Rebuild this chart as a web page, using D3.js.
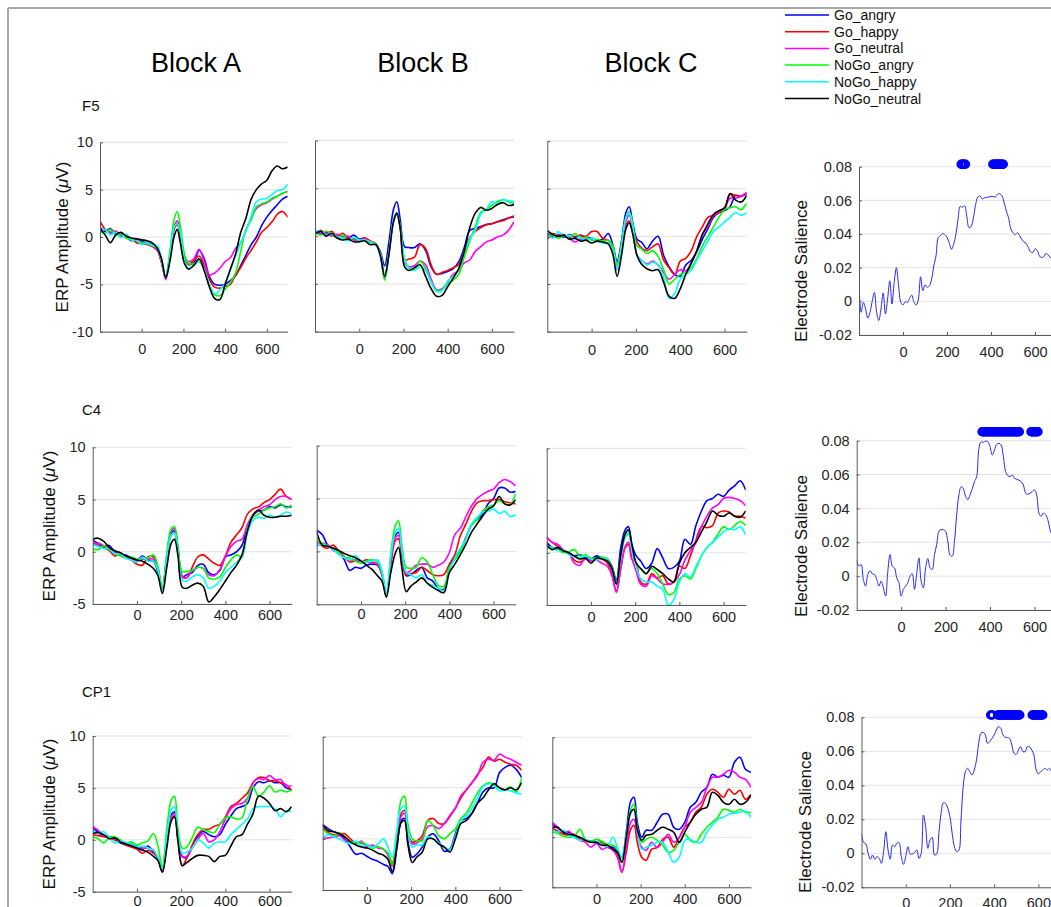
<!DOCTYPE html>
<html><head><meta charset="utf-8">
<script src="https://cdn.jsdelivr.net/npm/d3@7"></script>
<style>
body{margin:0;background:#fff;}
svg text{font-family:"Liberation Sans",Arial,Helvetica,sans-serif;fill:#262626;}
</style></head><body>
<svg id="chart" width="1051" height="907"></svg>
<script>
// ---------------- DATA ----------------
const seriesNames = ["Go_angry","Go_happy","Go_neutral","NoGo_angry","NoGo_happy","NoGo_neutral"];
const seriesColors = ["#0000ff","#ff0000","#ff00ff","#00ff00","#00ffff","#000000"];
const blockTitles = ["Block A","Block B","Block C"];
const electrodes = ["F5","C4","CP1"];
const xTicks = [0,200,400,600];
const yTicksRow1 = [-10,-5,0,5,10];
const yTicksRows23 = [-5,0,5,10];
const salienceTicks = [-0.02,0,0.02,0.04,0.06,0.08];
const times = [-200,-175,-150,-125,-100,-75,-50,-25,0,25,50,75,95,115,135,155,170,185,205,225,250,275,300,325,350,375,400,425,450,475,500,525,550,575,600,625,650,675,700];
const salTimes = d3.range(-200, 701, 10);

// ERP amplitudes (µV); rows: Go_angry, Go_happy, Go_neutral, NoGo_angry, NoGo_happy, NoGo_neutral
const F5_A = [
 [1.0,0.6,0.9,0.3,0.4,0.1,-0.4,-0.2,-0.5,-0.6,-0.8,-1.3,-2.6,-4.2,-2.0,1.0,1.4,0.3,-2.2,-2.9,-2.7,-1.4,-2.3,-4.2,-5.0,-5.1,-5.0,-4.6,-4.1,-3.0,-1.9,-0.8,0.0,1.2,2.1,2.8,3.4,4.0,4.3],
 [1.7,0.8,0.5,0.6,0.2,0.0,-0.2,-0.6,-0.7,-0.8,-1.0,-1.4,-2.7,-4.3,-2.2,0.8,1.3,0.2,-2.3,-2.9,-2.5,-2.0,-3.0,-4.5,-5.3,-5.4,-5.2,-5.0,-4.0,-3.2,-2.2,-1.4,-0.5,0.5,1.0,1.6,2.4,2.7,2.1],
 [0.5,0.8,0.4,0.6,0.1,0.2,-0.2,-0.4,-0.6,-0.7,-0.9,-1.4,-2.7,-4.5,-2.2,1.0,1.7,0.6,-2.0,-2.6,-2.3,-1.3,-2.6,-4.0,-3.8,-3.3,-2.6,-2.2,-1.2,-0.6,0.7,2.0,3.0,3.4,3.6,4.0,4.3,4.6,4.8],
 [0.6,0.4,0.8,0.2,0.3,-0.1,-0.3,-0.3,-0.6,-0.7,-0.9,-1.2,-2.5,-4.2,-1.5,1.8,2.7,1.2,-1.8,-2.8,-2.8,-2.6,-3.4,-5.2,-6.1,-6.2,-5.5,-4.8,-3.8,-1.5,0.8,1.8,3.2,3.5,3.7,4.1,4.3,4.6,4.8],
 [0.4,0.8,0.2,0.5,-0.1,0.3,-0.3,-0.3,-0.8,-0.6,-0.9,-0.9,-2.4,-4.3,-2.0,1.0,1.4,0.4,-2.4,-3.3,-3.0,-2.5,-3.5,-5.0,-6.0,-5.6,-4.9,-3.5,-2.0,-0.6,0.6,2.2,3.7,4.0,4.1,4.5,4.9,5.0,5.6],
 [0.9,0.2,-0.6,0.2,0.5,0.1,-0.1,-0.2,-0.3,-0.4,-0.6,-1.2,-2.3,-4.3,-2.6,0.0,0.8,-0.6,-2.8,-3.4,-3.0,-2.3,-3.6,-5.3,-6.5,-6.6,-5.0,-3.4,-1.8,0.5,2.0,4.0,5.0,5.6,6.0,7.0,7.5,7.2,7.4]
];
const F5_B = [
 [0.5,0.3,0.4,0.2,-0.2,0.0,-0.2,0.1,-0.3,-0.2,-0.6,-0.8,-1.6,-3.1,-0.5,2.8,3.6,1.8,-1.1,-1.2,-1.2,-0.8,-1.5,-3.2,-4.0,-3.9,-3.7,-3.4,-2.7,-1.2,0.6,0.8,1.0,1.2,1.3,1.5,1.7,1.9,2.0],
 [0.3,0.6,0.2,0.5,0.0,0.3,-0.2,-0.3,-0.4,-0.2,-0.5,-0.8,-1.8,-4.3,-1.5,1.6,2.3,1.0,-2.5,-2.4,-2.2,-0.9,-1.3,-3.0,-4.0,-3.8,-3.6,-3.3,-3.0,-1.6,-0.2,0.5,0.9,1.2,1.3,1.5,1.6,1.9,2.1],
 [0.6,0.2,0.3,0.0,0.2,-0.1,0.0,-0.4,-0.5,-0.3,-0.6,-0.9,-2.0,-4.4,-1.8,1.6,2.3,1.0,-2.8,-3.2,-3.1,-2.6,-3.0,-4.5,-5.6,-5.5,-4.8,-4.0,-3.6,-2.8,-2.5,-1.6,-1.1,-0.6,-0.4,-0.1,0.1,0.6,1.5],
 [0.4,0.1,0.5,0.2,-0.2,0.1,-0.4,-0.2,-0.5,-0.4,-0.7,-0.8,-1.9,-4.6,-1.7,1.6,2.4,1.1,-2.4,-3.3,-3.5,-2.6,-3.4,-4.8,-5.7,-5.6,-5.0,-4.6,-4.0,-2.2,-0.5,1.0,2.5,2.8,3.2,3.6,3.8,3.6,3.4],
 [0.6,0.5,0.1,0.3,-0.1,-0.2,-0.5,-0.1,-0.4,-0.4,-0.6,-0.9,-1.8,-4.2,-1.6,1.7,2.4,1.0,-2.5,-3.4,-3.6,-3.2,-3.6,-4.8,-5.8,-5.7,-4.7,-4.2,-3.5,-1.6,-0.3,0.6,2.3,2.8,3.6,3.4,3.8,3.7,3.6],
 [0.2,0.5,0.0,0.3,-0.2,-0.4,-0.3,-0.6,-0.6,-0.5,-0.9,-0.9,-2.0,-4.2,-1.8,1.5,2.4,0.9,-3.2,-3.6,-3.3,-3.0,-4.2,-5.5,-6.3,-6.2,-5.3,-4.4,-3.4,-1.6,0.9,2.4,3.0,2.7,2.9,3.3,3.5,3.2,3.3]
];
const F5_C = [
 [0.3,0.0,0.2,-0.1,0.2,-0.1,0.1,-0.1,-0.2,-0.4,-0.3,0.3,-0.8,-2.6,-0.5,2.5,3.1,1.5,-0.3,-0.6,-1.3,-0.5,0.0,-2.0,-3.2,-4.0,-4.2,-3.0,-2.5,-1.6,-0.3,0.8,2.0,2.5,2.7,3.1,4.3,4.2,4.5],
 [-0.3,0.3,0.1,0.2,-0.1,0.0,0.1,0.0,0.5,0.5,-0.2,-0.4,-1.0,-3.0,-0.8,1.2,1.6,0.6,-0.6,-1.2,-1.5,-1.1,-0.8,-2.5,-3.3,-4.0,-2.6,-2.3,-1.5,0.0,1.0,2.0,2.2,2.5,2.8,4.4,4.3,4.2,4.5],
 [0.2,-0.1,0.1,0.0,-0.2,-0.6,-0.3,-0.3,-0.3,-0.5,-0.6,-0.7,-1.3,-3.5,-1.3,1.6,2.2,0.9,-2.0,-2.5,-2.9,-2.6,-3.0,-3.8,-4.5,-4.0,-3.5,-3.6,-2.8,-1.5,0.2,1.0,2.2,2.6,3.0,4.0,4.0,4.2,4.6],
 [0.0,0.1,-0.2,0.1,0.0,0.3,-0.2,-0.1,-0.4,-0.3,-0.5,-0.4,-0.9,-3.0,-0.8,2.0,2.6,1.4,-1.0,-1.3,-1.8,-1.5,-2.1,-3.5,-5.0,-4.5,-4.0,-3.8,-3.3,-2.3,-1.0,0.0,1.0,2.0,2.8,3.0,3.1,2.8,3.5],
 [0.2,-0.2,0.5,0.0,0.1,-0.3,-0.1,-0.4,-0.2,-0.5,-0.7,-0.7,-1.3,-3.5,-1.0,1.9,2.4,1.1,-2.0,-2.5,-3.0,-2.7,-3.0,-4.3,-6.5,-6.0,-4.5,-4.0,-3.5,-2.5,-1.5,-0.5,0.5,1.0,1.5,2.0,2.5,2.2,2.5],
 [0.6,0.2,0.0,0.1,-0.3,-0.2,-0.5,-0.4,-0.7,-0.5,-0.6,-0.8,-1.8,-4.2,-2.0,0.8,1.4,0.3,-2.0,-2.9,-3.4,-3.6,-3.5,-4.8,-6.3,-6.5,-5.5,-4.0,-2.8,-1.5,0.2,1.3,2.3,2.7,3.0,4.5,3.8,3.6,4.3]
];
const C4_A = [
 [1.1,0.8,0.5,0.6,0.0,-0.3,-0.3,-0.6,-0.8,-0.4,-0.8,-0.9,-2.0,-3.6,-0.5,1.8,2.0,0.4,-2.4,-2.2,-2.0,-1.3,-1.2,-2.0,-2.2,-1.8,-0.5,-0.3,0.0,0.6,2.5,3.5,3.9,4.0,4.3,4.2,4.5,4.3,4.3],
 [0.9,0.6,0.4,0.1,-0.4,-0.2,-0.6,-0.8,-1.2,-1.3,-0.5,-0.5,-1.6,-3.5,-0.6,1.6,1.8,0.2,-2.4,-2.5,-1.5,-0.5,-0.3,-0.7,-1.1,-1.3,-0.4,0.9,1.6,2.3,3.6,4.1,4.3,4.7,5.0,5.5,6.0,5.3,5.0],
 [0.6,0.8,0.6,0.4,0.0,-0.1,-0.5,-0.7,-0.9,-0.7,-0.7,-0.7,-1.6,-3.6,-0.4,2.0,2.2,0.5,-2.3,-2.5,-1.8,-1.5,-1.6,-2.2,-2.3,-1.7,-0.5,0.5,1.0,1.2,2.6,3.5,4.0,4.3,4.5,5.0,5.3,5.3,5.0],
 [0.3,0.2,0.6,0.2,-0.2,-0.4,-0.6,-0.5,-0.7,-0.6,-0.6,-0.3,-1.4,-3.5,-0.2,2.2,2.4,0.6,-1.9,-1.9,-1.8,-1.5,-1.6,-2.5,-2.6,-2.4,-1.5,-0.8,-0.3,-0.5,2.2,3.3,3.6,4.0,4.2,4.3,4.6,4.2,4.5],
 [0.7,0.5,0.3,0.3,-0.2,-0.2,-0.6,-0.8,-1.0,-0.5,-0.9,-0.9,-1.8,-3.8,-0.6,1.6,1.8,0.1,-2.7,-2.8,-2.4,-2.2,-2.5,-3.5,-3.3,-2.8,-2.0,-1.5,-1.0,-0.5,1.8,3.0,3.3,3.2,3.5,3.3,3.5,3.8,3.6],
 [1.2,1.3,1.0,0.4,0.1,-0.1,-0.4,-0.6,-0.8,-0.9,-1.2,-1.6,-2.3,-4.0,-1.5,0.8,1.2,-0.3,-3.4,-3.5,-3.2,-3.0,-3.3,-4.8,-4.3,-3.6,-2.8,-2.0,-1.3,-0.3,2.0,3.5,4.0,3.5,3.3,3.3,3.4,3.4,3.5]
];
const C4_B = [
 [2.0,1.6,0.6,0.3,0.0,-0.8,-1.8,-1.5,-1.6,-1.3,-1.2,-1.3,-2.2,-4.3,-1.0,1.5,1.8,0.0,-2.3,-2.2,-1.8,-1.5,-2.5,-2.8,-3.5,-3.6,-1.5,-0.5,0.2,1.3,2.5,3.0,3.5,4.5,5.0,6.0,6.0,5.6,5.7],
 [0.9,0.5,0.3,0.6,0.0,-0.5,-1.0,-0.9,-1.0,-0.8,-1.0,-1.2,-2.0,-4.1,-1.3,1.0,1.2,-0.5,-2.2,-2.1,-2.0,-1.5,-1.8,-2.2,-2.3,-2.2,-1.2,-0.3,1.5,2.6,3.8,4.6,4.8,4.8,4.9,4.9,4.7,4.6,4.5],
 [0.5,0.8,0.6,0.1,-0.2,-0.6,-0.8,-0.8,-1.0,-1.0,-1.1,-1.2,-2.1,-4.2,-1.0,1.3,1.5,0.0,-2.0,-1.8,-1.3,-1.2,-1.2,-1.5,-1.3,-1.0,-0.1,1.6,2.2,3.3,4.3,5.0,5.4,5.7,5.9,6.5,6.8,6.6,6.2],
 [1.0,0.8,0.5,0.3,-0.1,-0.6,-0.6,-0.9,-1.1,-0.9,-0.8,-1.0,-2.0,-4.3,-0.2,2.4,2.9,0.6,-1.5,-1.6,-1.5,-0.6,-1.0,-2.2,-3.2,-3.3,-1.5,-0.8,0.0,1.2,2.5,3.0,3.8,4.2,4.4,4.8,4.5,4.4,5.5],
 [0.7,0.6,0.5,0.2,-0.3,-0.6,-0.8,-0.4,-0.9,-1.0,-0.9,-0.8,-1.8,-4.0,-0.5,1.8,2.2,0.2,-2.0,-2.2,-2.5,-2.2,-3.0,-3.2,-3.5,-3.7,-1.8,-0.6,0.3,1.2,2.6,3.2,3.7,3.8,4.0,3.6,3.8,3.3,3.5],
 [1.9,0.6,0.5,0.3,0.1,-0.2,-0.4,-0.6,-0.9,-1.3,-1.7,-2.3,-2.8,-4.3,-2.0,-0.2,0.4,-1.5,-3.8,-3.3,-2.9,-2.5,-3.0,-3.4,-3.7,-3.9,-2.0,-1.2,-0.3,0.7,1.8,2.6,3.3,4.0,4.3,5.2,4.5,4.4,4.9]
];
const C4_C = [
 [1.0,0.5,0.4,0.2,-0.1,-0.3,-0.2,-0.4,-0.6,-0.3,-0.5,-0.6,-1.3,-2.6,0.5,2.2,2.5,0.8,-0.3,-0.8,-1.5,-1.0,0.4,-0.5,-1.5,-1.4,-0.8,1.3,0.8,2.6,4.0,5.0,5.2,5.6,5.4,6.0,6.4,6.9,6.0],
 [1.4,1.0,0.6,0.2,0.0,-0.7,-0.9,-0.6,-0.7,-0.5,-0.6,-1.0,-2.0,-3.7,-1.5,0.5,0.8,-0.6,-1.0,-2.8,-3.0,-2.0,-2.4,-2.2,-3.0,-2.8,-1.3,-1.5,-0.3,1.2,2.5,2.4,2.6,3.8,4.0,3.9,3.5,3.5,3.3],
 [1.5,1.0,0.8,0.3,0.0,-1.0,-1.2,-0.5,-0.8,-0.7,-1.0,-1.3,-2.2,-3.8,-1.5,0.6,1.0,-0.5,-1.8,-3.0,-3.2,-2.2,-2.5,-3.0,-3.0,-2.8,-2.1,-0.7,0.2,1.0,2.5,3.5,4.3,4.6,5.2,5.3,5.2,5.0,4.5],
 [0.5,0.4,0.3,0.0,0.1,0.3,-0.3,-0.2,-0.5,-0.5,-0.4,-0.6,-1.4,-2.8,-0.3,1.5,1.8,0.5,-1.2,-1.5,-2.0,-1.5,-2.0,-3.0,-4.0,-3.8,-2.5,-2.2,-2.5,-1.5,-0.3,0.5,1.0,1.8,2.5,2.2,2.6,3.0,2.6],
 [0.7,0.5,0.2,0.3,-0.2,-0.4,-0.5,-0.3,-0.6,-0.7,-0.5,-0.7,-1.5,-3.0,-0.5,1.6,2.0,0.3,-1.3,-2.5,-2.8,-2.8,-3.2,-3.5,-5.0,-4.5,-2.8,-2.0,-2.3,-1.3,-0.3,0.5,1.0,1.5,2.0,2.3,2.2,2.5,1.7],
 [0.8,0.3,0.5,0.2,0.0,-0.3,-0.6,-0.5,-1.0,-0.5,-0.6,-0.8,-1.5,-3.0,-0.2,1.8,2.2,0.8,-1.0,-1.5,-2.0,-1.3,-1.6,-2.0,-2.5,-2.8,-1.0,0.0,0.5,1.0,2.0,3.0,4.0,3.6,3.5,3.8,3.5,3.4,4.0]
];
const CP1_A = [
 [1.2,0.7,0.4,0.3,0.0,-0.3,-0.5,-0.4,-0.7,-0.9,-0.6,-1.2,-1.8,-3.0,0.0,2.4,2.7,0.5,-1.6,-1.7,-0.6,0.3,0.8,0.5,0.3,0.5,1.5,2.3,3.0,3.2,3.5,5.0,5.6,5.5,5.7,5.5,5.5,5.0,4.8],
 [0.5,0.4,0.3,0.2,0.0,-0.2,-0.5,-0.7,-0.9,-1.3,-1.0,-1.3,-1.7,-3.1,-0.3,2.0,2.3,0.0,-2.5,-1.8,-0.5,0.5,1.0,1.0,1.3,1.5,2.2,3.2,3.5,4.0,4.5,5.5,6.0,6.0,5.7,5.7,5.5,5.3,4.7],
 [1.3,0.9,0.4,0.3,0.1,-0.1,-0.4,-0.5,-0.6,-0.8,-0.8,-1.0,-1.8,-3.1,-0.2,2.2,2.5,0.3,-1.6,-1.6,-0.8,0.0,0.6,-0.2,0.0,0.8,2.0,3.0,3.4,3.5,4.0,5.5,5.9,5.8,6.2,5.8,5.8,5.2,5.2],
 [0.3,0.1,-0.3,0.2,0.3,0.0,-0.3,-0.2,-0.5,-0.3,-0.1,0.6,-0.6,-2.6,1.0,3.8,4.2,1.2,-0.8,-0.7,0.2,1.2,1.0,0.8,0.7,1.5,2.1,2.2,2.0,2.1,4.0,5.1,4.2,4.6,5.2,4.6,4.8,4.6,4.8],
 [0.9,0.6,0.8,0.2,-0.3,-0.1,-0.3,-0.4,-0.7,-0.6,-0.8,-1.0,-1.7,-2.8,0.3,2.8,3.2,0.6,-1.3,-1.2,-0.8,0.0,-0.3,-0.8,-0.3,-0.2,-0.2,0.5,1.0,1.5,2.0,3.0,3.2,3.2,3.2,3.0,2.2,2.8,2.7],
 [0.6,0.7,0.5,0.1,0.2,-0.2,-0.4,-0.6,-0.8,-1.0,-1.2,-1.6,-2.0,-3.1,-0.8,1.8,2.2,0.0,-2.5,-2.2,-1.8,-1.5,-1.5,-1.6,-2.1,-1.6,-1.5,-0.6,0.3,0.5,1.5,2.5,4.2,4.0,3.5,2.8,3.0,2.7,3.2]
];
const CP1_B = [
 [1.4,1.0,0.7,0.5,0.0,-0.8,-1.5,-1.4,-1.7,-2.0,-2.2,-2.5,-2.7,-3.4,-1.0,1.8,2.0,-0.2,-1.8,-1.5,-0.8,0.2,0.5,-0.2,-1.2,-1.0,0.5,1.8,2.0,2.5,3.5,4.6,5.0,5.0,6.5,7.0,7.2,6.8,6.0],
 [1.2,0.6,0.4,0.5,0.5,0.0,-0.4,-0.4,-0.6,-0.7,-0.8,-1.0,-1.5,-2.3,0.0,2.5,2.8,0.5,-0.3,-0.2,0.3,1.8,2.0,1.5,1.5,2.2,3.0,4.0,4.8,5.5,6.3,7.0,8.0,7.6,7.8,7.5,7.3,7.2,6.7],
 [0.1,0.1,0.2,0.3,-0.1,-0.3,-0.5,-0.2,-0.8,-0.6,-0.9,-1.0,-1.6,-2.7,-0.3,2.2,2.5,0.2,-0.5,-0.4,0.0,1.2,1.3,1.0,1.5,2.3,3.0,4.2,4.8,5.5,6.2,7.5,7.8,7.7,8.3,8.0,7.8,7.5,7.2],
 [1.0,0.5,0.3,0.6,0.2,-0.2,-0.4,-0.3,-0.6,-0.9,-0.8,-1.0,-1.4,-2.5,0.5,3.8,4.2,1.5,0.0,-0.2,-0.2,1.8,1.3,0.3,0.0,0.5,1.0,2.0,2.5,3.5,4.5,5.2,5.5,5.3,5.0,4.8,5.1,4.6,6.0],
 [0.1,0.4,0.2,0.0,-0.3,-0.5,-0.2,-0.7,-0.6,-0.8,-0.5,0.0,-0.8,-1.8,0.8,3.0,3.2,0.8,-0.8,-0.6,-0.6,0.2,0.0,-0.4,-0.8,-1.0,0.3,1.8,2.2,3.0,4.0,5.1,5.4,5.2,4.7,4.8,4.7,4.5,4.4],
 [1.4,0.8,0.7,0.5,0.2,-0.3,-0.6,-0.8,-0.9,-1.1,-1.4,-1.6,-2.0,-3.2,-0.8,1.6,1.8,-0.5,-2.3,-1.8,-1.3,0.0,0.0,-0.5,-0.8,-1.3,0.0,1.5,1.8,2.5,3.5,4.0,4.8,5.4,5.0,4.8,5.0,4.8,5.5]
];
const CP1_C = [
 [1.3,0.9,0.6,0.5,0.2,-0.2,-0.3,-0.4,-0.6,-0.5,-1.0,-1.0,-1.5,-2.0,0.5,3.6,4.0,1.5,0.0,0.7,0.7,1.5,2.3,2.3,1.0,0.8,1.5,3.0,3.5,4.5,5.0,6.3,6.0,6.2,6.0,7.5,8.0,6.8,6.5],
 [0.9,0.6,0.3,0.2,0.3,-0.2,-0.3,-0.5,-0.2,-0.5,-1.0,-1.2,-1.8,-3.5,-1.5,0.8,1.2,-0.5,-2.0,-2.3,-1.2,-1.0,-0.2,0.0,-1.0,0.0,1.0,1.5,2.5,3.0,4.3,4.8,4.5,4.0,4.8,4.3,4.7,3.8,4.3],
 [1.5,1.0,0.4,0.6,0.0,-0.3,-0.5,-1.0,-0.6,-1.2,-1.0,-1.3,-2.0,-3.5,-1.0,1.5,1.8,0.2,-1.0,-1.3,-0.5,-1.0,-0.5,0.3,-0.5,0.0,1.0,2.5,3.0,3.5,5.0,6.0,6.0,6.3,6.7,6.5,6.0,5.8,5.0],
 [0.5,0.4,0.1,0.0,0.1,0.8,-0.2,-0.4,-0.2,-0.4,-0.7,-0.8,-1.2,-2.5,0.0,2.8,3.3,1.0,-0.5,-0.2,0.0,-0.3,-0.8,-1.5,-1.3,-0.5,0.3,-0.3,-0.5,0.3,1.0,1.5,2.0,2.8,2.7,2.5,2.8,2.5,2.5],
 [0.7,0.5,0.7,0.2,0.0,-0.3,-0.2,-0.5,-0.4,-0.7,-0.9,0.0,-1.0,-2.0,0.3,2.4,2.8,0.7,-1.2,-1.0,-0.8,-0.5,-0.5,-1.5,-2.5,-2.0,-0.3,-0.2,-0.5,-0.5,0.5,1.2,1.8,2.0,2.3,2.4,2.5,2.6,2.0],
 [1.0,1.0,0.5,0.3,0.2,0.0,-0.3,-0.5,-0.5,-0.8,-0.8,-1.2,-1.5,-2.5,0.0,2.5,2.8,0.8,-0.3,0.2,0.3,0.7,1.0,0.8,0.5,-0.5,0.5,1.5,2.3,2.8,3.0,4.5,4.2,3.5,3.3,3.8,3.3,3.5,4.2]
];

// Electrode salience, sampled every 10 ms from -200 to 700
const F5_sal = [0.009,-0.0065,-0.0006,-0.0045,-0.010,-0.0065,0.000,0.0053,-0.0065,-0.0114,
 -0.0045,0.005,-0.0075,0.0014,0.0122,-0.0016,0.0112,0.020,0.0092,-0.0006,
 -0.0022,-0.0002,-0.0006,0.0018,0.0037,-0.0006,-0.0022,0.0014,0.0146,0.0063,
 0.0098,0.0083,0.0092,0.0132,0.021,0.027,0.0378,0.039,0.0403,0.0397,
 0.038,0.0348,0.0309,0.0338,0.0397,0.0486,0.0564,0.0559,0.0568,0.0505,
 0.0437,0.0446,0.0496,0.0574,0.062,0.0627,0.0608,0.0614,0.0618,0.062,
 0.0623,0.0623,0.062,0.0637,0.0639,0.0627,0.0584,0.0535,0.0496,0.0431,
 0.0407,0.0397,0.0407,0.039,0.0368,0.0352,0.0344,0.0319,0.0293,0.0289,
 0.0313,0.0303,0.027,0.026,0.0266,0.0285,0.0275,0.026,0.025,0.024,
 0.023];
const C4_sal = [0.0098,0.0059,0.0069,-0.002,-0.0059,0.001,0.0033,0.0014,0.001,-0.002,
 -0.0059,-0.0029,-0.0069,-0.0118,0.0029,0.0127,0.0059,0.0049,-0.001,-0.0039,
 -0.0118,-0.0078,-0.0059,-0.0039,0,0.0014,-0.0078,0.0014,0.0108,-0.0029,
 -0.0069,0.0049,0.0104,0.0049,0.0039,0.0127,0.0186,0.0265,0.0275,0.0275,
 0.0265,0.0206,0.0124,0.0118,0.0206,0.0363,0.048,0.0529,0.0516,0.0471,
 0.0451,0.048,0.0516,0.0559,0.0588,0.0755,0.0794,0.079,0.0798,0.0794,
 0.0765,0.0716,0.0745,0.0778,0.0784,0.0775,0.0706,0.0618,0.0594,0.0588,
 0.0598,0.0578,0.0573,0.0567,0.0559,0.0539,0.049,0.0484,0.049,0.05,
 0.051,0.048,0.0373,0.0353,0.0373,0.0363,0.0333,0.0275,0.024,0.022,
 0.02];
const CP1_sal = [0.0118,0.0063,0.0055,0,-0.0035,-0.001,-0.0035,-0.002,-0.003,-0.0059,
 0.001,0.0127,0.002,-0.0035,0.0049,0.0039,0.0059,0.0063,-0.002,-0.0065,
 -0.002,0.0039,-0.0004,-0.0004,0.0004,0.002,-0.003,0,0.0225,0.0157,
 0.0029,0.0078,0.0094,-0.001,-0.0004,0.0118,0.0235,0.0298,0.0294,0.0265,
 0.0216,0.0118,0.0039,0.001,0.0016,0.0196,0.0392,0.048,0.05,0.048,
 0.0461,0.049,0.0549,0.0647,0.0706,0.0712,0.0696,0.0647,0.0657,0.0676,
 0.0696,0.0725,0.0745,0.0735,0.0696,0.0682,0.0682,0.0676,0.0637,0.0588,
 0.0582,0.0608,0.0627,0.0598,0.0598,0.0627,0.0627,0.0608,0.0578,0.049,
 0.0467,0.048,0.049,0.05,0.049,0.05,0.048,0.046,0.045,0.044,
 0.043];

// Significant time windows (ms), markers every 4 ms
const F5_sig = [[264,284],[408,456]];
const C4_sig = [[364,532],[584,616]];
const CP1_sig = [[384,392],[416,516],[572,620]];

// ---------------- LAYOUT ----------------
const erpData = [[F5_A,F5_B,F5_C],[C4_A,C4_B,C4_C],[CP1_A,CP1_B,CP1_C]];
const salData = [F5_sal, C4_sal, CP1_sal];
const sigData = [F5_sig, C4_sig, CP1_sig];

const layout = [
 { yDom:[-10,10], yTicks:yTicksRow1,
   erp:[{x0:100,x1:287.7,y0:142.3,y1:331.7,pad:12},{x0:315,x1:514,y0:140.5,y1:331.7,pad:12},{x0:547.3,x1:746.7,y0:141,y1:331.7,pad:13}],
   sal:{x0:859,x1:1057,y0:166.7,y1:335,pad:12}, mkOff:2.4,
   ylab:{x:62,y:237}, slab:{x:801,y:271}, name:{x:82,y:111} },
 { yDom:[-5,10], yTicks:yTicksRows23,
   erp:[{x0:92.7,x1:291.7,y0:447.3,y1:604,pad:6},{x0:316.7,x1:515.7,y0:445.7,y1:604.3,pad:4.5},{x0:546.7,x1:745.7,y0:448.3,y1:605,pad:6.5}],
   sal:{x0:856.7,x1:1056.7,y0:440.7,y1:610,pad:12}, mkOff:9,
   ylab:{x:49,y:526}, slab:{x:801,y:546}, name:{x:82,y:415} },
 { yDom:[-5,10], yTicks:yTicksRows23,
   erp:[{x0:92.7,x1:291.7,y0:736,y1:891.7,pad:4},{x0:322.7,x1:521.7,y0:736.7,y1:890,pad:4},{x0:552.3,x1:751,y0:737.3,y1:887.3,pad:6}],
   sal:{x0:861.5,x1:1060.5,y0:717.3,y1:887.3,pad:10}, mkOff:2.3,
   ylab:{x:49,y:814}, slab:{x:805,y:822}, name:{x:82,y:697} }
];
const titleX = [196, 423, 651];
const axisColor = "#5a5a5a", gridColor = "#e3e3e3";
const tickFont = "14.5px";
const plainNum = d => String(d);                       // ASCII hyphen for negatives
const salFmt = d => d === 0 ? "0" : d.toFixed(2);

const svg = d3.select("#chart");

// outer frame
svg.append("line").attr("x1",8).attr("x2",1051).attr("y1",8).attr("y2",8).attr("stroke","#a8a8a8").attr("stroke-width",2);
svg.append("line").attr("x1",8).attr("x2",8).attr("y1",8).attr("y2",907).attr("stroke","#a8a8a8").attr("stroke-width",2);

// block titles
blockTitles.forEach((t,i)=>{
  svg.append("text").attr("x",titleX[i]).attr("y",72).attr("text-anchor","middle")
    .style("font-size","27px").style("fill","#000").text(t);
});

// legend
const legend = svg.append("g");
seriesNames.forEach((n,i)=>{
  const y = 15 + i*16.7;
  legend.append("line").attr("x1",785).attr("x2",829).attr("y1",y).attr("y2",y)
    .attr("stroke",seriesColors[i]).attr("stroke-width",1.5);
  legend.append("text").attr("x",834).attr("y",y).attr("dy","0.36em")
    .style("font-size","14px").style("fill","#111").text(n);
});

function styleAxis(g){
  g.select(".domain").attr("stroke",axisColor).attr("stroke-width",1);
  g.selectAll(".tick line").attr("stroke",axisColor);
  g.selectAll(".tick text").style("font-size",tickFont).style("fill","#262626")
    .style("font-family",'"Liberation Sans",Arial,Helvetica,sans-serif');
}

let clipId = 0;
function makeClip(x0,y0,w,h){
  const id = "clip"+(clipId++);
  svg.append("clipPath").attr("id",id).append("rect").attr("x",x0).attr("y",y0).attr("width",w).attr("height",h);
  return "url(#"+id+")";
}

layout.forEach((L,r)=>{
  svg.append("text").attr("x",L.name.x).attr("y",L.name.y).style("font-size","15px").style("fill","#111").text(electrodes[r]);
  const yl = svg.append("text").attr("transform",`translate(${L.ylab.x},${L.ylab.y}) rotate(-90)`)
    .attr("text-anchor","middle").attr("dy","0.35em").style("font-size","17px").style("fill","#111");
  yl.append("tspan").text("ERP Amplitude (");
  yl.append("tspan").style("font-style","italic").text("μ");
  yl.append("tspan").text("V)");

  L.erp.forEach((P,c)=>{
    const x = d3.scaleLinear().domain([-200,700]).range([P.x0,P.x1]);
    const y = d3.scaleLinear().domain(L.yDom).range([P.y1,P.y0]);
    const g = svg.append("g");
    g.selectAll("line.grid").data(L.yTicks).join("line").attr("class","grid")
      .attr("x1",P.x0).attr("x2",P.x1).attr("y1",d=>y(d)).attr("y2",d=>y(d))
      .attr("stroke",gridColor).attr("stroke-width",1);
    const clip = makeClip(P.x0, P.y0-1, P.x1-P.x0, P.y1-P.y0+2);
    const line = d3.line().x((d,i)=>x(times[i])).y(d=>y(d)).curve(d3.curveCatmullRom.alpha(0.5));
    const lg = g.append("g").attr("clip-path",clip);
    erpData[r][c].forEach((vals,s)=>{
      lg.append("path").datum(vals).attr("d",line).attr("fill","none")
        .attr("stroke",seriesColors[s]).attr("stroke-width",1.6).attr("stroke-linejoin","round");
    });
    const ya = d3.axisLeft(y).tickValues(L.yTicks).tickSizeInner(-3).tickSizeOuter(0).tickPadding(7)
      .tickFormat(c===0 ? plainNum : ()=> "");
    g.append("g").attr("transform",`translate(${P.x0},0)`).call(ya).call(styleAxis);
    const xa = d3.axisBottom(x).tickValues(xTicks).tickSizeInner(-3).tickSizeOuter(0).tickPadding(P.pad).tickFormat(plainNum);
    g.append("g").attr("transform",`translate(0,${P.y1})`).call(xa).call(styleAxis);
  });

  const S = L.sal;
  const sx = d3.scaleLinear().domain([-200,700]).range([S.x0,S.x1]);
  const sy = d3.scaleLinear().domain([-0.02,0.08]).range([S.y1,S.y0]);
  const sg = svg.append("g");
  sg.selectAll("line.grid").data(salienceTicks).join("line").attr("class","grid")
    .attr("x1",S.x0).attr("x2",S.x1).attr("y1",d=>sy(d)).attr("y2",d=>sy(d))
    .attr("stroke",gridColor).attr("stroke-width",1);
  const sclip = makeClip(S.x0, S.y0-2, S.x1-S.x0, S.y1-S.y0+4);
  const sline = d3.line().x((d,i)=>sx(salTimes[i])).y(d=>sy(d)).curve(d3.curveCatmullRom.alpha(0.5));
  sg.append("path").datum(salData[r]).attr("d",sline).attr("clip-path",sclip)
    .attr("fill","none").attr("stroke","#2a2af0").attr("stroke-width",1);
  const sya = d3.axisLeft(sy).tickValues(salienceTicks).tickSizeInner(-3).tickSizeOuter(0).tickPadding(7)
    .tickFormat(salFmt);
  sg.append("g").attr("transform",`translate(${S.x0},0)`).call(sya).call(styleAxis);
  const sxa = d3.axisBottom(sx).tickValues(xTicks).tickSizeInner(-3).tickSizeOuter(0).tickPadding(S.pad).tickFormat(plainNum);
  sg.append("g").attr("transform",`translate(0,${S.y1})`).call(sxa).call(styleAxis);
  const mk = [];
  sigData[r].forEach(([a,b])=>{ for(let t=a;t<=b;t+=4) mk.push(t); });
  sg.selectAll("circle.mk").data(mk).join("circle").attr("class","mk")
    .attr("cx",d=>sx(d)).attr("cy",sy(0.08)-L.mkOff).attr("r",3.6)
    .attr("fill","none").attr("stroke","#0000ff").attr("stroke-width",2.2);
  svg.append("text").attr("transform",`translate(${L.slab.x},${L.slab.y}) rotate(-90)`)
    .attr("text-anchor","middle").attr("dy","0.35em").style("font-size","17px").style("fill","#111")
    .text("Electrode Salience");
});
</script>
</body></html>
